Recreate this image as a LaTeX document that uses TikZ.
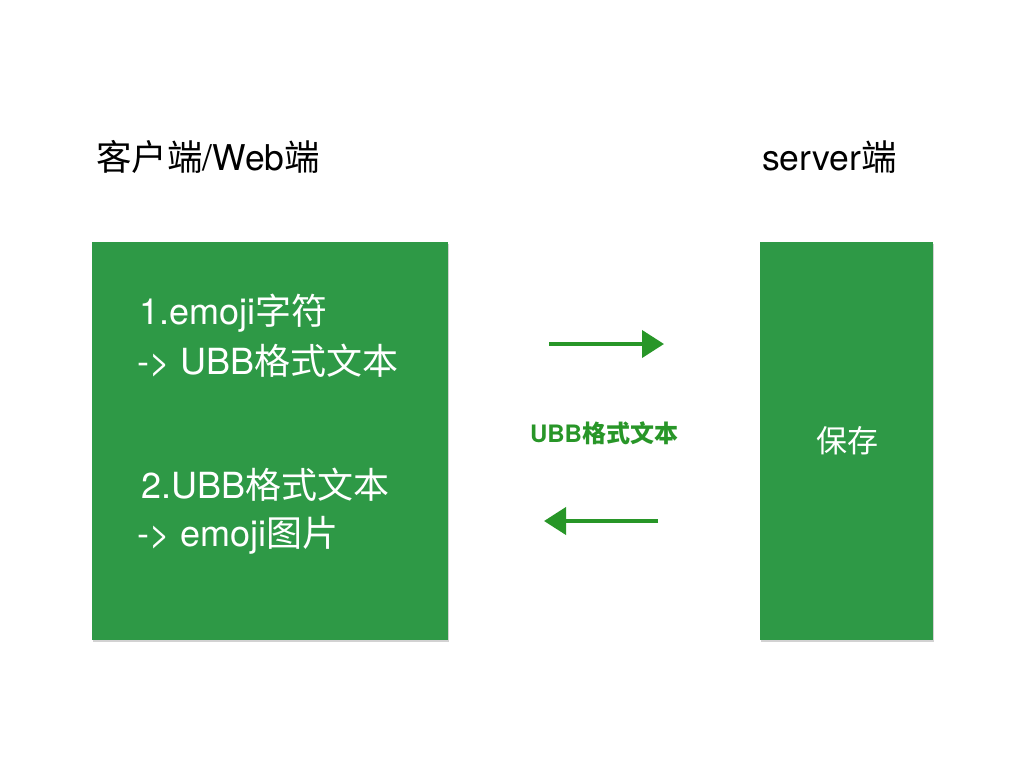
\documentclass[tikz,border=0pt]{standalone}
\usepackage{fontspec}
\setmainfont{TeX Gyre Heros}
\newfontfamily\cjk{Noto Sans CJK SC}
\usetikzlibrary{arrows.meta,shadows}

\definecolor{boxgreen}{RGB}{46,153,70}
\definecolor{arrowgreen}{RGB}{40,150,40}

\begin{document}
\begin{tikzpicture}[x=1pt, y=-1pt,
    panel/.style={fill=boxgreen, draw=none,
                  drop shadow={shadow xshift=1pt, shadow yshift=-1.5pt,
                               opacity=0.35, fill=gray}},
    title/.style={anchor=west, font=\fontsize{35.5}{35.5}\selectfont, inner sep=0pt},
    inside/.style={anchor=west, text=white, font=\fontsize{36}{36}\selectfont,
                   inner sep=0pt},
    chalk/.style={draw=arrowgreen, line width=4pt,
                  -{Triangle[length=22pt, width=27pt]}}]
  % Fix the page to the size of the slide
  \useasboundingbox[fill=white] (0,0) rectangle (1024,768);

  % The two green panels
  \fill[panel] (92,242) rectangle (448,640);
  \fill[panel] (760,242) rectangle (933,640);

  % Headings above the panels
  \node[title] (client) at (96,157) {{\cjk 客户端}/Web{\cjk 端}};
  \node[title] (server) at (762,157) {server{\cjk 端}};

  % What happens on the client side
  \node[inside] (step1a) at (139,313) {1.emoji{\cjk 字符}};
  \node[inside] (step1b) at (137,361) {-> UBB{\cjk 格式文本}};
  \node[inside] (step2a) at (141,485) {2.UBB{\cjk 格式文本}};
  \node[inside] (step2b) at (137,535) {-> emoji{\cjk 图片}};

  % What happens on the server side
  \node[inside, anchor=center, font=\fontsize{31}{31}\selectfont]
    (store) at (847,441) {\cjk 保存};

  % The message passed between them
  \node[text=arrowgreen, font=\bfseries\fontsize{24}{24}\selectfont]
    (msg) at (604,433) {UBB{\cjk\bfseries 格式文本}};

  % End points of the two arrows
  \coordinate (up-from) at (549,344);
  \coordinate (up-to) at (664,344);
  \coordinate (down-from) at (658,521);
  \coordinate (down-to) at (544,521);

  \draw[chalk] (up-from) -- (up-to);
  \draw[chalk] (down-from) -- (down-to);
\end{tikzpicture}
\end{document}
